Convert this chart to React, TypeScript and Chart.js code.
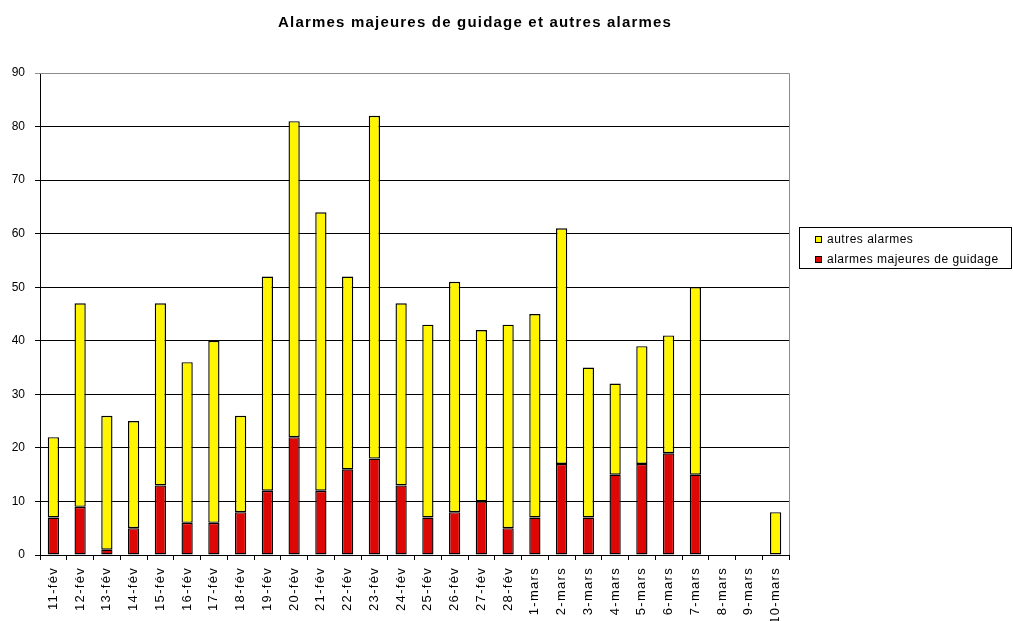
import React, { useEffect, useRef } from "react";
import { Chart, registerables } from "chart.js";

Chart.register(...registerables);

const categories = [
  "11-fév", "12-fév", "13-fév", "14-fév", "15-fév", "16-fév", "17-fév", "18-fév", "19-fév",
  "20-fév", "21-fév", "22-fév", "23-fév", "24-fév", "25-fév", "26-fév", "27-fév", "28-fév",
  "1-mars", "2-mars", "3-mars", "4-mars", "5-mars", "6-mars", "7-mars", "8-mars", "9-mars", "10-mars",
];
const majeures = [7, 9, 1, 5, 13, 6, 6, 8, 12, 22, 12, 16, 18, 13, 7, 8, 10, 5, 7, 17, 7, 15, 17, 19, 15, 0, 0, 0];
const autres = [15, 38, 25, 20, 34, 30, 34, 18, 40, 59, 52, 36, 64, 34, 36, 43, 32, 38, 38, 44, 28, 17, 22, 22, 35, 0, 0, 8];
const titleText = "Alarmes majeures de guidage et autres alarmes";
const yMax = 90;
const yStep = 10;

const FONT = "'Liberation Sans', Arial, sans-serif";

const framePlugin = {
  id: "frame",
  afterLayout(chart: any) {
    const xs = chart.scales.x;
    if (xs && !xs.__patched) {
      const orig = xs.drawLabels.bind(xs);
      xs.drawLabels = (area: any) => {
        const c = chart.ctx;
        c.save();
        c.letterSpacing = "1.3px";
        orig(area);
        c.restore();
      };
      xs.__patched = true;
    }
  },
  beforeDatasetsDraw(chart: any) {
    const { ctx, chartArea } = chart;
    ctx.save();
    ctx.strokeStyle = "#8c8c8c";
    ctx.lineWidth = 1;
    ctx.beginPath();
    ctx.moveTo(chartArea.left, chartArea.top + 0.5);
    ctx.lineTo(chartArea.right + 0.5, chartArea.top + 0.5);
    ctx.lineTo(chartArea.right + 0.5, chartArea.bottom);
    ctx.stroke();
    ctx.restore();
  },
  afterDraw(chart: any) {
    const { ctx } = chart;
    ctx.save();
    // title
    ctx.fillStyle = "#000";
    ctx.font = `bold 15px ${FONT}`;
    ctx.letterSpacing = "1.2px";
    ctx.textAlign = "left";
    ctx.textBaseline = "alphabetic";
    ctx.fillText(titleText, 278, 27);
    // legend
    ctx.letterSpacing = "0.5px";
    const bx = 799, by = 227, bw = 212, bh = 41;
    ctx.strokeStyle = "#000";
    ctx.lineWidth = 1;
    ctx.strokeRect(bx + 0.5, by + 0.5, bw, bh);
    const ds = chart.data.datasets.slice().reverse();
    ctx.font = `12px ${FONT}`;
    ds.forEach((d: any, i: number) => {
      const y = by + 12 + i * 20;
      ctx.fillStyle = d.backgroundColor;
      ctx.fillRect(815, y - 3, 7, 7);
      ctx.strokeStyle = "#000";
      ctx.strokeRect(815.5, y - 2.5, 6, 6);
      ctx.fillStyle = "#000";
      ctx.fillText(d.label, 827, y + 4);
    });
    ctx.restore();
  },
};

export default function App() {
  const ref = useRef<HTMLCanvasElement>(null);
  useEffect(() => {
    document.body.style.margin = "0";
    const chart = new Chart(ref.current!, {
      type: "bar",
      data: {
        labels: categories,
        datasets: [
          {
            label: "alarmes majeures de guidage",
            data: majeures,
            backgroundColor: "#DD0806",
            borderColor: "#000",
            borderWidth: 1.4,
            borderSkipped: false,
            barPercentage: 0.42,
            categoryPercentage: 1,
          },
          {
            label: "autres alarmes",
            data: autres,
            backgroundColor: "#FFF500",
            borderColor: "#000",
            borderWidth: 1.4,
            borderSkipped: false,
            barPercentage: 0.42,
            categoryPercentage: 1,
          },
        ],
      },
      options: {
        responsive: false,
        animation: false,
        devicePixelRatio: 1,
        layout: { padding: { left: 0, right: 224, top: 73, bottom: 0 } },
        plugins: { legend: { display: false }, title: { display: false }, tooltip: { enabled: false } },
        scales: {
          x: {
            stacked: true,
            offset: true,
            grid: { display: true, drawOnChartArea: false, drawTicks: true, tickLength: 5, color: "#000", offset: true },
            border: { color: "#000", width: 1 },
            ticks: {
              color: "#000",
              font: { family: FONT, size: 13 },
              maxRotation: 90,
              minRotation: 90,
              autoSkip: false,
              padding: 7,
            },
            afterFit: (s: any) => { s.height = 66; },
          },
          y: {
            stacked: true,
            min: 0,
            max: yMax,
            grid: {
              color: (c: any) => (c.tick && c.tick.value === yMax ? "#8c8c8c" : "#000"),
              lineWidth: 1,
              tickLength: 5,
              drawTicks: true,
            },
            border: { color: "#000", width: 1 },
            ticks: { stepSize: yStep, color: "#000", font: { family: FONT, size: 12 }, padding: 10 },
            afterFit: (s: any) => { s.width = 40; },
          },
        },
      },
      plugins: [framePlugin],
    });
    return () => chart.destroy();
  }, []);
  return <canvas ref={ref} width={1013} height={621} style={{ display: "block" }} />;
}
